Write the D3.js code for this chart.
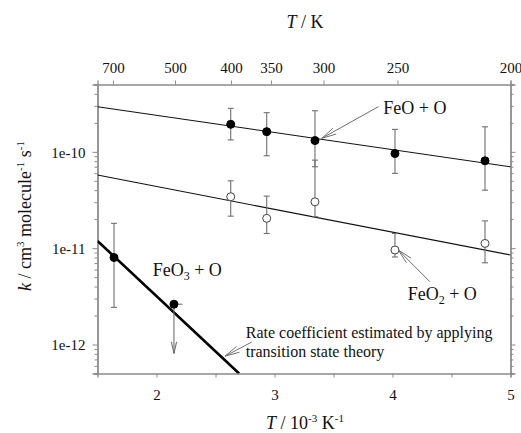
<!DOCTYPE html>
<html>
<meta charset="utf-8" />
<script src="https://d3js.org/d3.v7.min.js"></script>
<style>
  body { margin: 0; background: #fff; }
  text { font-family: "Liberation Serif", "Times New Roman", serif; fill: #111; }
</style>
<body>
<svg id="chart" width="521" height="433"></svg>
<script>
// x is inverse temperature in 10^-3 K^-1, k in cm3 molecule-1 s-1
var feoX = [2.629, 2.934, 3.343, 4.021, 4.784]
var feoK = [1.93e-10, 1.62e-10, 1.31e-10, 9.6e-11, 8.07e-11]
var feoHi = [2.83e-10, 2.55e-10, 2.67e-10, 1.71e-10, 1.82e-10]
var feoLo = [1.33e-10, 9.1e-11, 7.0e-11, 5.98e-11, 4.0e-11]

var feo2X = [2.629, 2.934, 3.343, 4.021, 4.784]
var feo2K = [3.42e-11, 2.04e-11, 3.03e-11, 9.57e-12, 1.12e-11]
var feo2Hi = [5.0e-11, 3.47e-11, 8.2e-11, 1.42e-11, 1.92e-11]
var feo2Lo = [2.15e-11, 1.42e-11, 2.12e-11, 8.1e-12, 7.05e-12]

var feo3X = [1.640, 2.148]
var feo3K = [8.0e-12, 2.62e-12]
var feo3Hi = [1.81e-11, null]
var feo3Lo = [2.43e-12, null]
var feo3Limit = [null, 8.07e-13]   // upper limit, drawn as arrow down
var feo3XHi = [null, 2.22]

// Arrhenius fits (end points)
var feoFit = [[1.5, 2.94e-10], [5, 7.0e-11]]
var feo2Fit = [[1.5, 5.74e-11], [5, 8.5e-12]]
var tstFit = [[1.5, 1.19e-11], [2.70, 5e-13]]

var xTicks = [2, 2.5, 3, 3.5, 4, 4.5, 5]
var topTickX = [1.631, 2.157, 2.631, 2.970, 3.415, 4.042, 5.0]
var topTickLabels = ["700", "500", "400", "350", "300", "250", "200"]

var svg = d3.select("#chart")
var axisColor = "#8a8a8a"
var barColor = "#707070"

var x = d3.scaleLinear().domain([1.5, 5]).range([97.5, 510.5])
var y = d3.scaleLog().domain([5e-13, 5e-10]).range([373.5, 84.5])

var isMajor = function(v) { return Math.abs(Math.log10(v) - Math.round(Math.log10(v))) < 1e-6 }
var allY = y.ticks()
var majorY = allY.filter(isMajor)
var minorY = allY.filter(function(v) { return !isMajor(v) })

function styleAxis(g) {
  g.attr("font-family", '"Liberation Serif", serif')
  g.selectAll("path.domain").attr("stroke", axisColor).attr("stroke-width", 1.3)
  g.selectAll(".tick line").attr("stroke", axisColor)
  g.selectAll(".tick text").attr("font-size", 15).attr("fill", "#111")
}

// bottom
svg.append("g").attr("transform", "translate(0," + y.range()[0] + ")")
  .call(d3.axisBottom(x).tickValues(xTicks).tickSizeOuter(0).tickSize(4).tickPadding(12)
    .tickFormat(function(d) { return d % 1 === 0 ? d : "" }))
  .call(styleAxis)

// top (temperature)
svg.append("g").attr("transform", "translate(0," + y.range()[1] + ")")
  .call(d3.axisTop(x).tickValues(topTickX).tickSizeOuter(0).tickSize(4).tickPadding(8)
    .tickFormat(function(d, i) { return topTickLabels[i] }))
  .call(styleAxis)

// left
svg.append("g").attr("transform", "translate(" + x.range()[0] + ",0)")
  .call(d3.axisLeft(y).tickValues(minorY).tickSizeOuter(0).tickSize(3).tickFormat(""))
  .call(styleAxis)
svg.append("g").attr("transform", "translate(" + x.range()[0] + ",0)")
  .call(d3.axisLeft(y).tickValues(majorY).tickSizeOuter(0).tickSize(5).tickPadding(7)
    .tickFormat(function(d) { return "1e" + Math.round(Math.log10(d)) }))
  .call(styleAxis)
  .selectAll(".tick text").attr("dy", "0.36em")

// right
svg.append("g").attr("transform", "translate(" + x.range()[1] + ",0)")
  .call(d3.axisRight(y).tickValues(minorY).tickSizeOuter(0).tickSize(3).tickFormat(""))
  .call(styleAxis)
svg.append("g").attr("transform", "translate(" + x.range()[1] + ",0)")
  .call(d3.axisRight(y).tickValues(majorY).tickSizeOuter(0).tickSize(5).tickFormat(""))
  .call(styleAxis)

// clip for fit lines
svg.append("clipPath").attr("id", "plotclip").append("rect")
  .attr("x", x.range()[0]).attr("y", y.range()[1])
  .attr("width", x.range()[1] - x.range()[0]).attr("height", y.range()[0] - y.range()[1])

var line = d3.line().x(function(d) { return x(d[0]) }).y(function(d) { return y(d[1]) })
var fits = svg.append("g").attr("clip-path", "url(#plotclip)")
fits.append("path").attr("d", line(feoFit)).attr("stroke", "#111").attr("stroke-width", 1.1).attr("fill", "none")
fits.append("path").attr("d", line(feo2Fit)).attr("stroke", "#111").attr("stroke-width", 1.1).attr("fill", "none")
fits.append("path").attr("d", line(tstFit)).attr("stroke", "#000").attr("stroke-width", 2.6).attr("fill", "none")

// error bars
function errorBars(xs, hi, lo) {
  var g = svg.append("g").attr("stroke", barColor).attr("stroke-width", 1.1)
  xs.forEach(function(xv, i) {
    if (hi[i] == null || lo[i] == null) return
    var cx = x(xv)
    g.append("line").attr("x1", cx).attr("x2", cx).attr("y1", y(hi[i])).attr("y2", y(lo[i]))
    g.append("line").attr("x1", cx - 3).attr("x2", cx + 3).attr("y1", y(hi[i])).attr("y2", y(hi[i]))
    g.append("line").attr("x1", cx - 3).attr("x2", cx + 3).attr("y1", y(lo[i])).attr("y2", y(lo[i]))
  })
}
errorBars(feoX, feoHi, feoLo)
errorBars(feo2X, feo2Hi, feo2Lo)
errorBars(feo3X, feo3Hi, feo3Lo)

// arrow helper: open V head at (x2,y2)
function arrow(x1, y1, x2, y2, len, color, width) {
  var g = svg.append("g").attr("stroke", color).attr("stroke-width", width || 1).attr("fill", "none")
  g.append("line").attr("x1", x1).attr("y1", y1).attr("x2", x2).attr("y2", y2)
  var a = Math.atan2(y1 - y2, x1 - x2)
  ;[-0.22, 0.22].forEach(function(da) {
    g.append("line").attr("x1", x2).attr("y1", y2)
      .attr("x2", x2 + len * Math.cos(a + da)).attr("y2", y2 + len * Math.sin(a + da))
  })
}

// FeO3 upper-limit point: horizontal tick and downward arrow
feo3X.forEach(function(xv, i) {
  if (feo3Limit[i] != null) {
    arrow(x(xv), y(feo3K[i]), x(xv), y(feo3Limit[i]), 12, barColor, 1.1)
  }
  if (feo3XHi[i] != null) {
    svg.append("line").attr("x1", x(xv)).attr("x2", x(feo3XHi[i]))
      .attr("y1", y(feo3K[i])).attr("y2", y(feo3K[i]))
      .attr("stroke", barColor).attr("stroke-width", 1.1)
  }
})

// points
function dots(xs, ks, filled) {
  svg.append("g").selectAll("circle").data(xs).enter().append("circle")
    .attr("cx", function(d) { return x(d) })
    .attr("cy", function(d, i) { return y(ks[i]) })
    .attr("r", 4)
    .attr("fill", filled ? "#000" : "#fff")
    .attr("stroke", filled ? "#000" : "#444")
    .attr("stroke-width", 1)
}
dots(feo2X, feo2K, false)
dots(feoX, feoK, true)
dots(feo3X, feo3K, true)

// annotations (anchored in data units)
arrow(x(3.88), y(2.94e-10), x(3.40), y(1.38e-10), 15, barColor, 1)
arrow(x(4.318), y(4.47e-12), x(4.05), y(9.55e-12), 15, barColor, 1)
arrow(x(2.807), y(1.06e-12), x(2.581), y(7.57e-13), 15, barColor, 1)

svg.append("text").attr("x", x(3.922)).attr("y", y(2.47e-10)).attr("font-size", 18).text("FeO + O")

var t3 = svg.append("text").attr("x", x(1.968)).attr("y", y(5.13e-12)).attr("font-size", 18)
t3.append("tspan").text("FeO")
t3.append("tspan").attr("font-size", 12).attr("dy", 4).text("3")
t3.append("tspan").attr("dy", -4).text(" + O")

var t2 = svg.append("text").attr("x", x(4.129)).attr("y", y(2.92e-12)).attr("font-size", 18)
t2.append("tspan").text("FeO")
t2.append("tspan").attr("font-size", 12).attr("dy", 4).text("2")
t2.append("tspan").attr("dy", -4).text(" + O")

var rate = svg.append("text").attr("x", x(2.756)).attr("y", y(1.16e-12)).attr("font-size", 16)
rate.append("tspan").text("Rate coefficient estimated by applying")
rate.append("tspan").attr("x", x(2.756)).attr("dy", 18.5).text("transition state theory")

// axis titles
var tTop = svg.append("text").attr("x", 305).attr("y", 28).attr("text-anchor", "middle").attr("font-size", 18)
tTop.append("tspan").attr("font-style", "italic").text("T")
tTop.append("tspan").text(" / K")

var tBot = svg.append("text").attr("x", 305).attr("y", 429).attr("text-anchor", "middle").attr("font-size", 18)
tBot.append("tspan").attr("font-style", "italic").text("T")
tBot.append("tspan").text(" / 10")
tBot.append("tspan").attr("font-size", 11).attr("dy", -7).text("-3")
tBot.append("tspan").attr("dy", 7).text(" K")
tBot.append("tspan").attr("font-size", 11).attr("dy", -7).text("-1")

var tLeft = svg.append("text").attr("transform", "translate(31,216) rotate(-90)")
  .attr("text-anchor", "middle").attr("font-size", 18)
tLeft.append("tspan").attr("font-style", "italic").text("k")
tLeft.append("tspan").text(" / cm")
tLeft.append("tspan").attr("font-size", 11).attr("dy", -7).text("3")
tLeft.append("tspan").attr("dy", 7).text(" molecule")
tLeft.append("tspan").attr("font-size", 11).attr("dy", -7).text("-1")
tLeft.append("tspan").attr("dy", 7).text(" s")
tLeft.append("tspan").attr("font-size", 11).attr("dy", -7).text("-1")
</script>
</body>
</html>
